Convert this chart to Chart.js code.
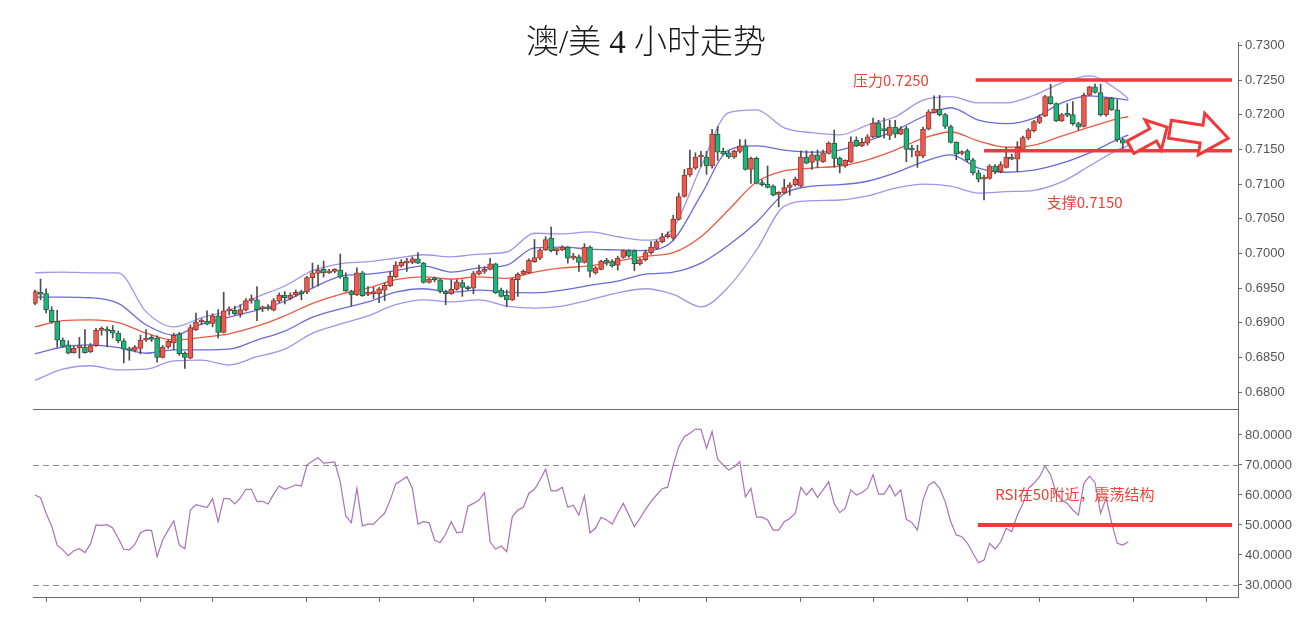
<!DOCTYPE html>
<html lang="zh-CN">
<head>
<meta charset="utf-8">
<title>澳/美 4小时走势</title>
<script src="https://cdn.jsdelivr.net/npm/chart.js@4.4.1/dist/chart.umd.min.js"></script>
<style>
  html, body { margin: 0; padding: 0; background: #fff; }
  #wrap { position: relative; width: 1302px; height: 617px; overflow: hidden; }
  #wrap canvas { position: absolute; left: 0; }
</style>
</head>
<body>
<div id="wrap">
  <canvas id="priceChart" width="1302" height="410" style="top:0"></canvas>
  <canvas id="rsiChart" width="1302" height="207" style="top:410px"></canvas>
</div>
<script>
// ---- dados: velas de 4 horas (AUD/USD) ----
const open = [
  0.6928,0.6944,0.6942,0.6918,0.6902,0.6875,0.6868,0.6857,0.6864,0.6865,
  0.6858,0.6867,0.6889,0.6889,0.6889,0.6885,0.6874,0.6861,0.6860,0.6863,
  0.6875,0.6877,0.6878,0.6850,0.6865,0.6871,0.6884,0.6856,0.6849,0.6890,
  0.6901,0.6902,0.6899,0.6910,0.6886,0.6917,0.6918,0.6912,0.6918,0.6932,
  0.6933,0.6920,0.6922,0.6918,0.6931,0.6940,0.6935,0.6940,0.6945,0.6944,
  0.6965,0.6971,0.6977,0.6972,0.6974,0.6976,0.6966,0.6945,0.6940,0.6972,
  0.6941,0.6942,0.6942,0.6947,0.6953,0.6966,0.6982,0.6986,0.6987,0.6992,
  0.6986,0.6958,0.6963,0.6962,0.6945,0.6942,0.6948,0.6958,0.6951,0.6950,
  0.6970,0.6974,0.6977,0.6985,0.6947,0.6940,0.6933,0.6962,0.6970,0.6972,
  0.6988,0.6993,0.7005,0.7022,0.7004,0.7005,0.7009,0.6993,0.6995,0.6987,
  0.7009,0.6972,0.6977,0.6989,0.6988,0.6983,0.6994,0.7004,0.7004,0.6985,
  0.6991,0.7001,0.7007,0.7017,0.7024,0.7022,0.7049,0.7082,0.7113,0.7123,
  0.7139,0.7139,0.7126,0.7172,0.7147,0.7145,0.7139,0.7147,0.7155,0.7121,
  0.7137,0.7102,0.7100,0.7097,0.7085,0.7087,0.7095,0.7099,0.7097,0.7139,
  0.7131,0.7142,0.7132,0.7144,0.7159,0.7137,0.7126,0.7132,0.7163,0.7155,
  0.7159,0.7168,0.7188,0.7178,0.7170,0.7182,0.7172,0.7180,0.7150,0.7140,
  0.7140,0.7179,0.7203,0.7208,0.7200,0.7183,0.7160,0.7144,0.7148,0.7135,
  0.7116,0.7107,0.7108,0.7126,0.7118,0.7124,0.7139,0.7136,0.7150,0.7166,
  0.7177,0.7189,0.7198,0.7226,0.7216,0.7191,0.7200,0.7200,0.7187,0.7183,
  0.7228,0.7240,0.7232,0.7200,0.7224,0.7207,0.7164,0.7159
];
const high = [
  0.6947,0.6963,0.6949,0.6923,0.6918,0.6878,0.6874,0.6866,0.6879,0.6890,
  0.6870,0.6892,0.6894,0.6894,0.6896,0.6888,0.6877,0.6865,0.6867,0.6882,
  0.6890,0.6882,0.6881,0.6867,0.6875,0.6885,0.6886,0.6858,0.6897,0.6914,
  0.6906,0.6917,0.6913,0.6919,0.6944,0.6923,0.6924,0.6926,0.6935,0.6940,
  0.6952,0.6924,0.6926,0.6935,0.6943,0.6945,0.6943,0.6947,0.6947,0.6967,
  0.6986,0.6983,0.6989,0.6977,0.6978,0.6999,0.6972,0.6947,0.6979,0.6974,
  0.6952,0.6951,0.6951,0.6957,0.6974,0.6988,0.6991,0.6993,0.6995,0.7001,
  0.6987,0.6964,0.6966,0.6963,0.6947,0.6962,0.6962,0.6962,0.6953,0.6974,
  0.6983,0.6981,0.6993,0.6986,0.6950,0.6947,0.6964,0.6972,0.6976,0.6992,
  0.7020,0.7007,0.7024,0.7038,0.7007,0.7011,0.7010,0.7000,0.6998,0.7014,
  0.7011,0.6981,0.6990,0.6993,0.6991,0.6996,0.7005,0.7005,0.7005,0.6993,
  0.7005,0.7017,0.7019,0.7029,0.7031,0.7055,0.7087,0.7121,0.7149,0.7145,
  0.7147,0.7147,0.7179,0.7183,0.7152,0.7148,0.7149,0.7164,0.7164,0.7139,
  0.7139,0.7106,0.7126,0.7099,0.7089,0.7107,0.7102,0.7110,0.7148,0.7148,
  0.7147,0.7149,0.7149,0.7161,0.7178,0.7139,0.7135,0.7168,0.7168,0.7166,
  0.7171,0.7195,0.7192,0.7195,0.7192,0.7192,0.7183,0.7183,0.7156,0.7156,
  0.7182,0.7207,0.7227,0.7228,0.7202,0.7185,0.7161,0.7148,0.7150,0.7137,
  0.7120,0.7113,0.7128,0.7128,0.7132,0.7153,0.7143,0.7161,0.7169,0.7180,
  0.7192,0.7200,0.7228,0.7244,0.7217,0.7202,0.7216,0.7219,0.7189,0.7231,
  0.7241,0.7244,0.7244,0.7225,0.7225,0.7222,0.7166,0.7164
];
const low = [
  0.6926,0.6933,0.6914,0.6899,0.6865,0.6865,0.6855,0.6856,0.6849,0.6856,
  0.6857,0.6866,0.6882,0.6865,0.6878,0.6871,0.6842,0.6846,0.6858,0.6855,
  0.6873,0.6873,0.6843,0.6849,0.6863,0.6861,0.6853,0.6834,0.6848,0.6889,
  0.6897,0.6897,0.6894,0.6878,0.6885,0.6911,0.6911,0.6908,0.6917,0.6928,
  0.6903,0.6916,0.6918,0.6917,0.6929,0.6927,0.6933,0.6938,0.6933,0.6942,
  0.6951,0.6953,0.6966,0.6971,0.6972,0.6964,0.6945,0.6924,0.6939,0.6938,
  0.6939,0.6935,0.6929,0.6932,0.6952,0.6965,0.6980,0.6974,0.6985,0.6985,
  0.6957,0.6957,0.6959,0.6943,0.6926,0.6941,0.6947,0.6938,0.6947,0.6942,
  0.6969,0.6971,0.6976,0.6942,0.6937,0.6923,0.6932,0.6938,0.6969,0.6971,
  0.6987,0.6991,0.7004,0.7002,0.6998,0.7004,0.6986,0.6991,0.6974,0.6986,
  0.6966,0.6970,0.6976,0.6983,0.6980,0.6976,0.6993,0.6994,0.6975,0.6983,
  0.6989,0.6999,0.7006,0.7015,0.7022,0.7019,0.7048,0.7081,0.7111,0.7121,
  0.7125,0.7114,0.7123,0.7134,0.7142,0.7137,0.7137,0.7145,0.7120,0.7101,
  0.7100,0.7097,0.7094,0.7083,0.7067,0.7086,0.7084,0.7097,0.7096,0.7129,
  0.7121,0.7124,0.7131,0.7143,0.7124,0.7116,0.7124,0.7131,0.7154,0.7154,
  0.7156,0.7167,0.7167,0.7166,0.7164,0.7167,0.7171,0.7132,0.7139,0.7124,
  0.7138,0.7178,0.7202,0.7198,0.7180,0.7159,0.7135,0.7142,0.7132,0.7113,
  0.7103,0.7077,0.7107,0.7115,0.7116,0.7123,0.7135,0.7118,0.7149,0.7164,
  0.7175,0.7187,0.7197,0.7215,0.7190,0.7190,0.7197,0.7185,0.7178,0.7182,
  0.7227,0.7231,0.7198,0.7198,0.7206,0.7161,0.7149,0.7156
];
const close = [
  0.6945,0.6941,0.6919,0.6901,0.6875,0.6866,0.6856,0.6863,0.6865,0.6857,
  0.6867,0.6889,0.6889,0.6888,0.6885,0.6874,0.6862,0.6860,0.6865,0.6875,
  0.6878,0.6876,0.6850,0.6865,0.6873,0.6882,0.6855,0.6850,0.6893,0.6901,
  0.6902,0.6898,0.6910,0.6886,0.6917,0.6918,0.6913,0.6919,0.6932,0.6934,
  0.6919,0.6921,0.6920,0.6932,0.6940,0.6936,0.6940,0.6944,0.6942,0.6965,
  0.6972,0.6976,0.6972,0.6974,0.6974,0.6966,0.6946,0.6940,0.6972,0.6939,
  0.6942,0.6943,0.6949,0.6954,0.6967,0.6983,0.6987,0.6989,0.6992,0.6986,
  0.6958,0.6963,0.6962,0.6945,0.6942,0.6948,0.6959,0.6951,0.6949,0.6971,
  0.6975,0.6977,0.6985,0.6943,0.6938,0.6933,0.6963,0.6970,0.6974,0.6990,
  0.6994,0.7005,0.7020,0.7004,0.7005,0.7009,0.6993,0.6996,0.6987,0.7009,
  0.6974,0.6979,0.6989,0.6987,0.6982,0.6993,0.7004,0.6996,0.6985,0.6991,
  0.7001,0.7009,0.7017,0.7024,0.7027,0.7049,0.7082,0.7113,0.7123,0.7139,
  0.7140,0.7126,0.7172,0.7146,0.7143,0.7139,0.7147,0.7155,0.7121,0.7137,
  0.7101,0.7099,0.7095,0.7084,0.7086,0.7095,0.7099,0.7107,0.7139,0.7130,
  0.7142,0.7134,0.7145,0.7159,0.7137,0.7128,0.7134,0.7161,0.7155,0.7160,
  0.7168,0.7188,0.7168,0.7177,0.7182,0.7172,0.7179,0.7150,0.7149,0.7148,
  0.7179,0.7204,0.7208,0.7200,0.7183,0.7160,0.7143,0.7145,0.7135,0.7116,
  0.7107,0.7108,0.7126,0.7118,0.7128,0.7139,0.7136,0.7153,0.7167,0.7178,
  0.7190,0.7197,0.7226,0.7216,0.7191,0.7200,0.7199,0.7187,0.7182,0.7228,
  0.7240,0.7232,0.7200,0.7224,0.7207,0.7164,0.7159,0.7160
];

// Bandas de Bollinger (dupla), lidas em algumas velas
const bandIndex = [0,5,10,15,20,25,30,35,40,45,50,55,60,65,70,75,80,85,90,95,
  100,105,110,115,120,125,130,135,140,145,150,155,160,165,170,175,180,185,190,195,197];
const bandOuterUpper = [0.6972,0.6973,0.6972,0.6972,0.6916,0.6894,0.6907,0.6918,0.6937,0.6953,
  0.6975,0.6985,0.6988,0.6993,0.6998,0.6995,0.6999,0.7002,0.7029,0.7028,
  0.7031,0.7024,0.7019,0.7037,0.7125,0.7203,0.7207,0.7181,0.7174,0.7171,
  0.7185,0.7197,0.7221,0.7226,0.7217,0.7217,0.7228,0.7246,0.7256,0.7236,0.7223];
const bandInnerUpper = [0.6937,0.6937,0.6936,0.6928,0.6897,0.6882,0.6898,0.6908,0.6918,0.6931,
  0.6950,0.6967,0.6970,0.6975,0.6982,0.6973,0.6979,0.6983,0.7008,0.7009,
  0.7006,0.7005,0.7004,0.7019,0.7084,0.7149,0.7155,0.7149,0.7146,0.7149,
  0.7162,0.7177,0.7197,0.7210,0.7192,0.7187,0.7195,0.7217,0.7227,0.7223,0.7221];
const bandMiddle = [0.6894,0.6903,0.6904,0.6900,0.6885,0.6875,0.6879,0.6884,0.6895,0.6910,
  0.6928,0.6941,0.6950,0.6962,0.6966,0.6963,0.6966,0.6964,0.6973,0.6979,
  0.6982,0.6989,0.6996,0.7001,0.7024,0.7063,0.7103,0.7119,0.7123,0.7126,
  0.7135,0.7149,0.7166,0.7175,0.7162,0.7153,0.7156,0.7169,0.7182,0.7194,0.7197];
const bandInnerLower = [0.6855,0.6865,0.6868,0.6864,0.6856,0.6861,0.6861,0.6862,0.6875,0.6888,
  0.6908,0.6920,0.6930,0.6944,0.6949,0.6944,0.6947,0.6944,0.6943,0.6947,
  0.6954,0.6960,0.6970,0.6973,0.6986,0.7012,0.7045,0.7086,0.7097,0.7099,
  0.7104,0.7116,0.7132,0.7142,0.7123,0.7117,0.7120,0.7130,0.7145,0.7164,0.7171];
const bandOuterLower = [0.6817,0.6833,0.6838,0.6832,0.6833,0.6845,0.6846,0.6839,0.6851,0.6862,
  0.6885,0.6898,0.6910,0.6926,0.6933,0.6930,0.6933,0.6924,0.6921,0.6924,
  0.6933,0.6943,0.6949,0.6941,0.6923,0.6952,0.7005,0.7068,0.7076,0.7077,
  0.7083,0.7094,0.7100,0.7097,0.7087,0.7089,0.7091,0.7103,0.7126,0.7149,0.7155];

// RSI, uma leitura por vela
const rsi = [
  60.0,59.1,53.9,49.7,43.3,41.7,39.8,41.4,42.1,40.8,
  43.7,50.0,49.9,50.1,49.0,45.6,41.9,41.7,43.5,47.4,
  48.3,48.2,39.4,45.0,48.3,51.4,43.3,42.1,55.0,56.8,
  56.3,55.8,58.8,51.1,58.8,58.8,57.0,59.0,61.9,61.9,
  57.8,57.9,57.0,60.3,63.0,61.9,62.6,63.4,63.0,70.0,
  71.3,72.4,70.6,70.8,71.0,64.4,53.0,50.8,62.2,49.7,
  50.3,50.3,52.2,53.9,58.3,63.7,64.8,66.1,62.2,50.3,
  51.1,50.8,45.0,44.1,47.0,51.1,47.4,47.7,56.3,57.2,
  58.3,60.8,44.4,41.9,43.0,41.1,52.8,55.0,55.9,60.6,
  61.9,65.0,68.6,61.4,61.4,62.6,55.9,56.6,53.3,59.7,
  47.4,48.9,52.6,51.7,50.3,53.9,57.2,53.3,49.4,52.2,
  55.2,57.8,60.0,62.1,62.6,70.0,76.1,79.4,80.6,82.0,
  81.9,75.6,81.1,71.9,70.0,68.3,69.4,71.1,59.4,62.2,
  52.6,52.6,51.7,48.3,48.3,51.1,52.2,53.9,62.6,60.0,
  62.2,59.2,61.7,64.4,57.2,54.1,55.6,61.7,60.0,60.8,
  62.2,66.7,60.3,60.3,63.3,59.7,61.7,51.9,50.8,48.3,
  58.3,63.3,64.4,62.2,57.8,51.1,46.7,46.1,43.9,40.6,
  37.4,38.3,43.9,42.0,44.4,48.9,47.8,53.3,57.2,62.2,
  63.9,66.1,69.7,66.7,60.6,58.3,57.2,55.0,53.3,63.9,
  66.3,64.1,53.9,58.9,50.6,43.9,43.3,44.4
];

// marcas dos eixos
const priceTicks = [0.6800,0.6850,0.6900,0.6950,0.7000,0.7050,0.7100,0.7150,0.7200,0.7250,0.7300];
const rsiTicks = [30,40,50,60,70,80];
const sessionTicks = [2,19,32,49,62,79,92,109,121,138,151,168,181,198,211];

// níveis e textos de análise
const resistance = 0.7250;
const support = 0.7148;
const rsiMid = 50;
const resistanceLabel = '压力0.7250';
const supportLabel = '支撑0.7150';
const rsiNote = 'RSI在50附近，震荡结构';
const chartTitle = '澳/美 4 小时走势';

// ---- aparência ----
const X_MIN = -0.36, X_MAX = 216.76;
const PRICE_MIN = 0.67756, PRICE_MAX = 0.73048;
const RSI_MIN = 26, RSI_MAX = 88.33;
const UP_FILL = '#ec5a4f', UP_EDGE = '#94382f';
const DOWN_FILL = '#1cb57a', DOWN_EDGE = '#2b5e47';
const WICK = '#4d4d4d';
const NOTE_RED = '#ea4335';
const LINE_RED = '#f0393b';
const AXIS = '#6a6a6a';
const TICK_FONT = { family: '"Liberation Sans", Arial, sans-serif', size: 13 };
const CJK = '"Noto Sans CJK SC", "Noto Sans", sans-serif';

const decor = {
  resistanceFrom: 169.5, supportFrom: 171, rsiLineFrom: 169.9, lineTo: 215.7,
  resistanceText: { x: 147.4, y: 0.7250 },
  supportText: { x: 182.3, y: 0.7073 },
  rsiText: { x: 173, y: 60.3 },
  arrows: [
    { from: [197.4, 0.7153], to: [204.0, 0.7182], shaft: 7, head: 17, headLen: 16 },
    { from: [204.5, 0.7179], to: [215.0, 0.7166], shaft: 9, head: 21, headLen: 27 }
  ]
};

/**
 * Desenha uma seta de bloco vazada (contorno vermelho, miolo branco).
 */
function drawBlockArrow(ctx, x0, y0, x1, y1, shaft, head, headLen) {
  const ang = Math.atan2(y1 - y0, x1 - x0);
  const len = Math.hypot(x1 - x0, y1 - y0);
  ctx.save();
  ctx.translate(x0, y0);
  ctx.rotate(ang);
  ctx.beginPath();
  ctx.moveTo(0, -shaft);
  ctx.lineTo(len - headLen, -shaft);
  ctx.lineTo(len - headLen, -head);
  ctx.lineTo(len, 0);
  ctx.lineTo(len - headLen, head);
  ctx.lineTo(len - headLen, shaft);
  ctx.lineTo(0, shaft);
  ctx.closePath();
  ctx.fillStyle = '#fff';
  ctx.fill();
  ctx.lineWidth = 3;
  ctx.lineJoin = 'miter';
  ctx.strokeStyle = LINE_RED;
  ctx.stroke();
  ctx.restore();
}

function hLine(ctx, x0, x1, y, width, color, dash) {
  ctx.save();
  ctx.beginPath();
  ctx.setLineDash(dash || []);
  ctx.lineWidth = width;
  ctx.strokeStyle = color;
  ctx.moveTo(x0, y);
  ctx.lineTo(x1, y);
  ctx.stroke();
  ctx.restore();
}

function noteText(ctx, text, x, y) {
  ctx.save();
  ctx.font = '15px ' + CJK;
  ctx.fillStyle = NOTE_RED;
  ctx.textBaseline = 'middle';
  ctx.textAlign = 'left';
  ctx.fillText(text, x, y);
  ctx.restore();
}

// Decorações do painel de preço: níveis, textos, setas, título
const priceDecor = {
  id: 'priceDecor',
  beforeDraw(chart) {
    const ctx = chart.ctx;
    ctx.save();
    ctx.fillStyle = '#fff';
    ctx.fillRect(0, 0, chart.width, chart.height);
    ctx.restore();
  },
  afterDatasetsDraw(chart) {
    const { ctx, chartArea, scales: { x, y } } = chart;
    hLine(ctx, x.getPixelForValue(decor.resistanceFrom), x.getPixelForValue(decor.lineTo),
      y.getPixelForValue(resistance), 3.5, LINE_RED);
    hLine(ctx, x.getPixelForValue(decor.supportFrom), x.getPixelForValue(decor.lineTo),
      y.getPixelForValue(support), 3.5, LINE_RED);
    noteText(ctx, resistanceLabel, x.getPixelForValue(decor.resistanceText.x), y.getPixelForValue(decor.resistanceText.y));
    noteText(ctx, supportLabel, x.getPixelForValue(decor.supportText.x), y.getPixelForValue(decor.supportText.y));
    decor.arrows.forEach(a => {
      drawBlockArrow(ctx, x.getPixelForValue(a.from[0]), y.getPixelForValue(a.from[1]),
        x.getPixelForValue(a.to[0]), y.getPixelForValue(a.to[1]), a.shaft, a.head, a.headLen);
    });
    // linha que separa os painéis
    hLine(ctx, chartArea.left, chartArea.right, chartArea.bottom + 0.5, 1, AXIS);
  },
  afterDraw(chart) {
    const ctx = chart.ctx;
    ctx.save();
    ctx.font = '300 33px "Liberation Serif", ' + CJK;
    ctx.fillStyle = '#1a1a1a';
    ctx.textAlign = 'center';
    ctx.textBaseline = 'middle';
    ctx.fillText(chartTitle, 646, 44);
    ctx.restore();
  }
};

// Decorações do painel do RSI
const rsiDecor = {
  id: 'rsiDecor',
  beforeDraw(chart) {
    const ctx = chart.ctx;
    ctx.save();
    ctx.fillStyle = '#fff';
    ctx.fillRect(0, 0, chart.width, chart.height);
    ctx.restore();
  },
  beforeDatasetsDraw(chart) {
    const { ctx, chartArea, scales: { y } } = chart;
    [70, 30].forEach(v => hLine(ctx, chartArea.left, chartArea.right,
      Math.round(y.getPixelForValue(v)) + 0.5, 1, '#8c8c8c', [6, 4]));
  },
  afterDatasetsDraw(chart) {
    const { ctx, scales: { x, y } } = chart;
    hLine(ctx, x.getPixelForValue(decor.rsiLineFrom), x.getPixelForValue(decor.lineTo),
      y.getPixelForValue(rsiMid), 4, LINE_RED);
    noteText(ctx, rsiNote, x.getPixelForValue(decor.rsiText.x), y.getPixelForValue(decor.rsiText.y));
  }
};

function rightAxis(min, max, ticks) {
  return {
    position: 'right',
    min: min,
    max: max,
    afterBuildTicks: ax => { ax.ticks = ticks.map(v => ({ value: v })); },
    afterFit: ax => { ax.width = 64; ax.paddingTop = 0; ax.paddingBottom = 0; },
    ticks: { autoSkip: false, color: '#555', font: TICK_FONT, padding: 3, callback: v => Number(v).toFixed(4) },
    grid: { display: true, drawOnChartArea: false, drawTicks: true, tickLength: 4, color: AXIS },
    border: { display: true, color: AXIS }
  };
}

function bandLine(values, color, width) {
  return {
    type: 'line',
    data: bandIndex.map((b, k) => ({ x: b, y: values[k] })),
    borderColor: color,
    borderWidth: width,
    pointRadius: 0,
    cubicInterpolationMode: 'monotone',
    fill: false,
    order: 2
  };
}

function initPriceChart() {
  const idx = close.map((_, i) => i);
  const isUp = i => close[i] >= open[i];

  new Chart(document.getElementById('priceChart'), {
    type: 'bar',
    data: {
      datasets: [
        {
          label: 'corpo',
          data: idx.map(i => ({ x: i, y: [open[i], close[i]] })),
          backgroundColor: idx.map(i => isUp(i) ? UP_FILL : DOWN_FILL),
          borderColor: idx.map(i => isUp(i) ? UP_EDGE : DOWN_EDGE),
          borderWidth: 1,
          borderSkipped: false,
          barThickness: 5,
          minBarLength: 2,
          grouped: false,
          order: 0
        },
        {
          label: 'pavio',
          data: idx.map(i => ({ x: i, y: [low[i], high[i]] })),
          backgroundColor: WICK,
          borderWidth: 0,
          barThickness: 1,
          grouped: false,
          order: 1
        },
        bandLine(bandOuterUpper, '#9f95ea', 1.3),
        bandLine(bandInnerUpper, '#6c6ad8', 1.3),
        bandLine(bandMiddle, '#eb5a43', 1.3),
        bandLine(bandInnerLower, '#6c6ad8', 1.3),
        bandLine(bandOuterLower, '#9f95ea', 1.3)
      ]
    },
    options: {
      responsive: false,
      animation: false,
      devicePixelRatio: 1,
      layout: { padding: { left: 33, top: 42, right: 0, bottom: 1 } },
      plugins: { legend: { display: false }, tooltip: { enabled: false }, title: { display: false } },
      scales: {
        x: { type: 'linear', min: X_MIN, max: X_MAX, offset: false, display: false },
        y: rightAxis(PRICE_MIN, PRICE_MAX, priceTicks)
      }
    },
    plugins: [priceDecor]
  });
}

function initRsiChart() {
  new Chart(document.getElementById('rsiChart'), {
    type: 'line',
    data: {
      datasets: [{
        label: 'RSI',
        data: rsi.map((v, i) => ({ x: i, y: v })),
        borderColor: '#a873b6',
        borderWidth: 1.2,
        pointRadius: 0,
        tension: 0,
        fill: false
      }]
    },
    options: {
      responsive: false,
      animation: false,
      devicePixelRatio: 1,
      layout: { padding: { left: 33, top: 0, right: 0, bottom: 0 } },
      plugins: { legend: { display: false }, tooltip: { enabled: false } },
      scales: {
        x: {
          type: 'linear', min: X_MIN, max: X_MAX, offset: false, position: 'bottom',
          afterBuildTicks: ax => { ax.ticks = sessionTicks.map(v => ({ value: v })); },
          afterFit: ax => { ax.height = 20; ax.paddingLeft = 0; ax.paddingRight = 0; },
          ticks: { display: false },
          grid: { display: true, drawOnChartArea: false, drawTicks: true, tickLength: 5, color: AXIS },
          border: { display: true, color: AXIS }
        },
        y: rightAxis(RSI_MIN, RSI_MAX, rsiTicks)
      }
    },
    plugins: [rsiDecor]
  });
}

document.addEventListener('DOMContentLoaded', function() {
  initPriceChart();
  initRsiChart();
});
</script>
</body>
</html>
